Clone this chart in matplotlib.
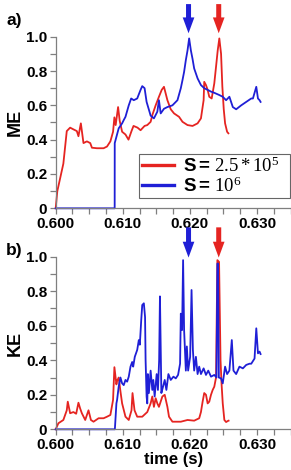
import matplotlib
matplotlib.use("Agg")
import matplotlib.pyplot as plt
from matplotlib.ticker import MultipleLocator, FixedLocator

plt.rcParams['font.family'] = ['Liberation Sans', 'DejaVu Sans']
plt.rcParams['mathtext.fontset'] = 'custom'
plt.rcParams['mathtext.rm'] = 'Liberation Serif'
plt.rcParams['mathtext.it'] = 'Liberation Serif:italic'
plt.rcParams['mathtext.bf'] = 'Liberation Sans:bold'

# ---------------- data ----------------
me_red_t = [0.6000, 0.60024, 0.60114, 0.60165, 0.60215, 0.60264, 0.60315, 0.60339, 0.60375,
            0.60414, 0.60465, 0.60515, 0.6054, 0.60615, 0.60714, 0.60765, 0.60815, 0.60855,
            0.60875, 0.60894, 0.6093, 0.60954, 0.6099, 0.6104, 0.61085, 0.6113, 0.6116,
            0.6122, 0.61265, 0.61325, 0.61365, 0.61415, 0.6144, 0.6149, 0.61539, 0.6158,
            0.61614, 0.61665, 0.61715, 0.61764, 0.61839, 0.6189, 0.61965, 0.6204, 0.62115,
            0.62165, 0.62205, 0.62214, 0.6224, 0.62265, 0.62289, 0.62325, 0.62364, 0.6239,
            0.62415, 0.62439, 0.62465, 0.62484, 0.62505, 0.62525, 0.62555, 0.62574]
me_red_v = [0.0, 0.10, 0.26, 0.45, 0.47, 0.46, 0.45, 0.42, 0.495,
            0.38, 0.39, 0.38, 0.353, 0.35, 0.35, 0.36, 0.39, 0.446,
            0.53, 0.485, 0.59, 0.51, 0.446, 0.43, 0.40, 0.45, 0.48,
            0.47, 0.455, 0.48, 0.485, 0.504, 0.543, 0.60, 0.65, 0.69,
            0.708, 0.63, 0.577, 0.553, 0.533, 0.504, 0.485, 0.48, 0.495,
            0.524, 0.63, 0.737, 0.718, 0.69, 0.65, 0.64, 0.728, 0.825,
            0.92, 0.99, 0.90, 0.71, 0.577, 0.495, 0.446, 0.437]

me_blue_t = [0.6000, 0.60879, 0.6088, 0.60939, 0.6099, 0.61014, 0.6104, 0.61089, 0.61125,
             0.61164, 0.61215, 0.61265, 0.6129, 0.61325, 0.61355, 0.61389, 0.61415, 0.61464,
             0.61515, 0.61539, 0.61565, 0.61614, 0.61665, 0.6174, 0.61815, 0.61865, 0.6189,
             0.61914, 0.6194, 0.61965, 0.61989, 0.62015, 0.6204, 0.62064, 0.62115, 0.62165,
             0.62214, 0.62265, 0.62315, 0.62364, 0.62439, 0.6249, 0.6254, 0.62589, 0.6264,
             0.6269, 0.62765, 0.6284, 0.62915, 0.6294, 0.6299, 0.63015, 0.63039, 0.63054]
me_blue_v = [0.0, 0.0, 0.38, 0.466, 0.495, 0.514, 0.533, 0.60, 0.64,
             0.63, 0.64, 0.69, 0.712, 0.70, 0.62, 0.575, 0.54, 0.524,
             0.563, 0.63, 0.553, 0.58, 0.59, 0.60, 0.63, 0.70, 0.747,
             0.795, 0.864, 0.92, 0.99, 0.92, 0.87, 0.815, 0.757, 0.718,
             0.70, 0.69, 0.68, 0.673, 0.66, 0.65, 0.63, 0.65, 0.59,
             0.577, 0.60, 0.62, 0.64, 0.64, 0.708, 0.64, 0.63, 0.62]

ke_red_t = [0.6000, 0.6004, 0.60114, 0.60165, 0.6018, 0.60215, 0.60264, 0.60305, 0.60339,
            0.60365, 0.6039, 0.6044, 0.60489, 0.60525, 0.60564, 0.60639, 0.60714, 0.60765,
            0.60815, 0.60855, 0.60875, 0.60905, 0.60915, 0.60939, 0.60965, 0.6099, 0.6104,
            0.61089, 0.6113, 0.61145, 0.61175, 0.61215, 0.6129, 0.61365, 0.61415, 0.6144,
            0.61464, 0.6149, 0.61515, 0.61539, 0.6159, 0.61625, 0.61665, 0.61689, 0.6174,
            0.61865, 0.61965, 0.62064, 0.62139, 0.62165, 0.6219, 0.62214, 0.6224, 0.62265,
            0.62289, 0.62315, 0.6234, 0.62364, 0.6239, 0.6241, 0.62435, 0.62457, 0.62472,
            0.6249, 0.62514, 0.6254, 0.62565, 0.62577]
ke_red_v = [0.0, 0.035, 0.054, 0.11, 0.16, 0.093, 0.10, 0.09, 0.154,
            0.12, 0.093, 0.054, 0.11, 0.054, 0.044, 0.064, 0.064, 0.073,
            0.083, 0.17, 0.36, 0.26, 0.28, 0.30, 0.22, 0.15, 0.073,
            0.054, 0.11, 0.21, 0.11, 0.073, 0.073, 0.10, 0.15, 0.19,
            0.13, 0.18, 0.15, 0.13, 0.19, 0.20, 0.13, 0.073, 0.044,
            0.044, 0.054, 0.05, 0.064, 0.10, 0.16, 0.21, 0.20, 0.15,
            0.16, 0.20, 0.228, 0.247, 0.30, 0.98, 0.97, 0.40, 0.266,
            0.15, 0.054, 0.042, 0.048, 0.05]

ke_blue_t = [0.6000, 0.60879, 0.60882, 0.60905, 0.60915, 0.60939, 0.60965, 0.6099, 0.61014,
             0.6104, 0.61065, 0.61089, 0.61115, 0.6114, 0.61155, 0.61179, 0.61215, 0.61239,
             0.61254, 0.61275, 0.6129, 0.61314, 0.61332, 0.6134, 0.61355, 0.61365, 0.61374,
             0.61389, 0.61415, 0.6144, 0.61455, 0.61475, 0.61505, 0.61524, 0.61542, 0.61554,
             0.61568, 0.61575, 0.616, 0.61625, 0.6165, 0.6168, 0.61715, 0.61755, 0.6179,
             0.61824, 0.61854, 0.61865, 0.61884, 0.61899, 0.61914, 0.6194, 0.61955, 0.61974,
             0.62004, 0.62025, 0.62045, 0.62064, 0.6209, 0.62115, 0.62139, 0.62165, 0.62205,
             0.6224, 0.62274, 0.62315, 0.62364, 0.62397, 0.6241, 0.6242, 0.62432, 0.62465,
             0.6249, 0.62525, 0.62555, 0.62589, 0.62625, 0.6265, 0.6269, 0.62739, 0.6279,
             0.6284, 0.62889, 0.62915, 0.62964, 0.6299, 0.63015, 0.63039, 0.63054]
ke_blue_v = [0.0, 0.0, 0.0, 0.15, 0.17, 0.247, 0.30, 0.266, 0.256,
             0.286, 0.276, 0.305, 0.363, 0.39, 0.363, 0.42, 0.46, 0.517,
             0.49, 0.633, 0.72, 0.73, 0.65, 0.40, 0.19, 0.15, 0.32,
             0.21, 0.34, 0.228, 0.286, 0.19, 0.32, 0.228, 0.40, 0.77,
             0.40, 0.21, 0.247, 0.286, 0.228, 0.32, 0.286, 0.305, 0.295,
             0.315, 0.38, 0.67, 0.575, 0.98, 0.575, 0.34, 0.48, 0.34,
             0.42, 0.807, 0.46, 0.34, 0.42, 0.32, 0.363, 0.32, 0.353,
             0.315, 0.34, 0.305, 0.315, 0.30, 0.96, 0.96, 0.30, 0.295,
             0.266, 0.363, 0.32, 0.34, 0.517, 0.34, 0.32, 0.363, 0.353,
             0.373, 0.38, 0.38, 0.41, 0.585, 0.44, 0.45, 0.436]

arrow_blue_t = 0.6198
arrow_red_t = 0.6243
label_red = r"$\mathbf{S=}\,2.5*10^{5}$"
label_blue = r"$\mathbf{S=}\,10^{6}$"
xticks = [0.600, 0.610, 0.620, 0.630]
xtick_labels = ["0.600", "0.610", "0.620", "0.630"]
yticks = [0.0, 0.2, 0.4, 0.6, 0.8, 1.0]
ytick_labels = ["0", "0.2", "0.4", "0.6", "0.8", "1.0"]

RED = '#e52421'
BLUE = '#1f1fd6'
GRAY = '#7f7f7f'

W, H = 291, 470
fig = plt.figure(figsize=(W / 100, H / 100), dpi=100)

def make_ax(top_px, bot_px):
    left = 55.7 / W
    right = 290.5 / W
    return fig.add_axes([left, 1 - bot_px / H, right - left, (bot_px - top_px) / H])

ax1 = make_ax(36.7, 208.3)
ax2 = make_ax(256.7, 429.3)

for ax in (ax1, ax2):
    ax.set_xlim(0.600, 0.635)
    ax.set_ylim(0, 1.0)
    for s in ('top', 'right'):
        ax.spines[s].set_visible(False)
    for s in ('left', 'bottom'):
        ax.spines[s].set_color(GRAY)
        ax.spines[s].set_linewidth(0.9)
    ax.xaxis.set_major_locator(FixedLocator(xticks))
    ax.set_xticklabels(xtick_labels)
    ax.xaxis.set_minor_locator(MultipleLocator(0.0025))
    ax.yaxis.set_major_locator(FixedLocator(yticks))
    ax.set_yticklabels(ytick_labels)
    ax.yaxis.set_minor_locator(MultipleLocator(0.1))
    ax.tick_params(which='both', direction='out', color=GRAY, width=0.9, length=4,
                   labelsize=11, pad=2)
    for lab in ax.get_xticklabels() + ax.get_yticklabels():
        lab.set_fontweight('bold')
    ax.patch.set_alpha(0)

ax1.plot(me_red_t, me_red_v, color=RED, lw=1.3, label=label_red, clip_on=False)
ax1.plot(me_blue_t, me_blue_v, color=BLUE, lw=1.3, label=label_blue, clip_on=False)
ax2.plot(ke_red_t, ke_red_v, color=RED, lw=1.3, clip_on=False)
ax2.plot(ke_blue_t, ke_blue_v, color=BLUE, lw=1.3, clip_on=False)

ax1.set_ylabel("ME", fontsize=13, fontweight='bold', labelpad=2)
ax2.set_ylabel("KE", fontsize=13, fontweight='bold', labelpad=2)
ax2.set_xlabel("time (s)", fontsize=12, fontweight='bold', labelpad=0)

leg = ax1.legend(loc='upper left', bbox_to_anchor=(0.356, 0.054, 0.641, 0.262),
                 mode='expand', fontsize=13.5, frameon=True, fancybox=False,
                 handlelength=1.75, handletextpad=0.45, borderpad=0.12,
                 labelspacing=0.05, borderaxespad=0)
leg.get_frame().set_edgecolor('#404040')
leg.get_frame().set_linewidth(0.8)
for line in leg.get_lines():
    line.set_linewidth(2.4)

for ax, tip, tail in ((ax1, 1.02, 1.19), (ax2, 0.995, 1.17)):
    for t, c in ((arrow_blue_t, BLUE), (arrow_red_t, RED)):
        ax.annotate("", xy=(t, tip), xytext=(t, tail), xycoords='data',
                    annotation_clip=False,
                    arrowprops=dict(arrowstyle="simple,head_length=0.95,head_width=0.7,tail_width=0.3",
                                    mutation_scale=12, color=c, lw=0,
                                    shrinkA=0, shrinkB=0))

fig.text(14 / W, 1 - 21 / H, "a)", fontsize=12.5, fontweight='bold', ha='center', va='center')
fig.text(14 / W, 1 - 250 / H, "b)", fontsize=12.5, fontweight='bold', ha='center', va='center')

fig.savefig("out.png", dpi=100)
